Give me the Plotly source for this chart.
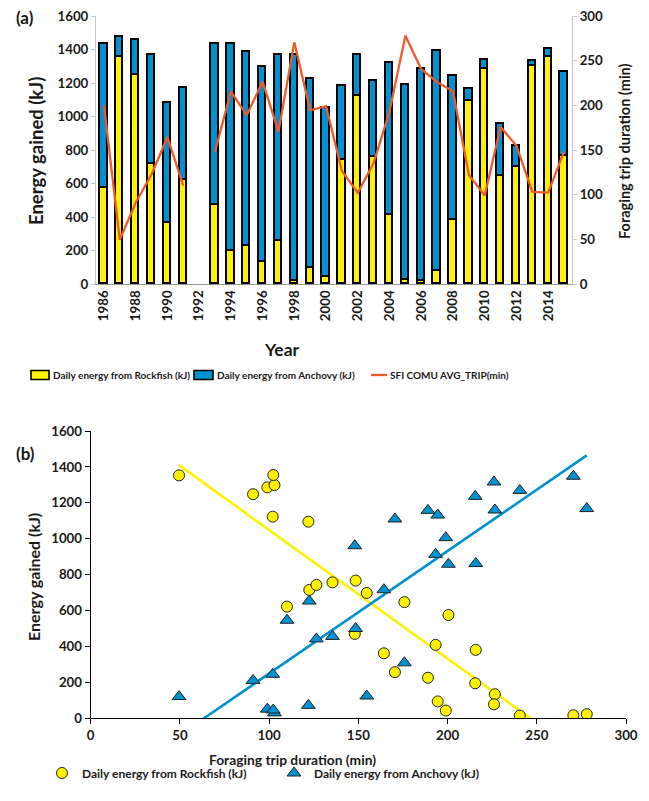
import numpy as np
import plotly.graph_objects as go

years = list(range(1986, 2016))
rockfish = [575, 1353, 1248, 715, 362, 622, None, 470, 195, 226, 134, 257, 17, 94, 43,
            743, 1123, 757, 409, 23, 15, 78, 381, 1095, 1286, 647, 698, 1299, 1355, 767]
anchovy = [858, 121, 211, 653, 716, 546, None, 961, 1236, 1158, 1160, 1110, 1348, 1132, 1006,
           442, 245, 456, 913, 1168, 1269, 1316, 862, 72, 51, 309, 124, 30, 46, 500]
trip = [200.5, 49.5, 91, 122.5, 164.3, 110, None, 148, 215.5, 189, 226.5, 170.5, 270.5, 194.5, 199,
        126.5, 102, 135.5, 193.3, 278, 240.5, 226, 215.8, 122, 99, 175.8, 154.7, 103, 102.3, 148.5]
year_ticks = list(range(1986, 2015, 2))
energy_ticks = list(range(0, 1601, 200))
trip_ticks = list(range(0, 301, 50))
dur_ticks = list(range(0, 301, 50))

NAME_ROCK = "Daily energy from Rockfish (kJ)"
NAME_ANCH = "Daily energy from Anchovy (kJ)"
NAME_TRIP = "SFI COMU AVG_TRIP(min)"

YEL = "#FFF200"
BLU = "#0091D2"
ORG = "#F05A28"
FONT = "Lato"
TXT = "#1a1a1a"
W, H = 649, 801

def px(x):
    return x / W

def py(y):
    return 1 - y / H

fig = go.Figure()
fig.add_trace(go.Bar(x=years, y=rockfish, name=NAME_ROCK,
                     marker=dict(color=YEL, line=dict(color="black", width=1.6)),
                     width=0.46, xaxis="x", yaxis="y", showlegend=False))
fig.add_trace(go.Bar(x=years, y=anchovy, name=NAME_ANCH,
                     marker=dict(color=BLU, line=dict(color="black", width=1.6)),
                     width=0.46, xaxis="x", yaxis="y", showlegend=False))
fig.add_trace(go.Scatter(x=years, y=trip, name=NAME_TRIP, mode="lines",
                         line=dict(color=ORG, width=2.3), connectgaps=False,
                         xaxis="x", yaxis="y3", showlegend=False))

# panel b
tx, ry, ay = [], [], []
for t, r, a in zip(trip, rockfish, anchovy):
    if t is None:
        continue
    tx.append(t); ry.append(r); ay.append(a)
tx = np.array(tx); ry = np.array(ry); ay = np.array(ay)
xs = np.array([tx.min(), tx.max()])
kr = np.polyfit(tx, ry, 1)
ka = np.polyfit(tx, ay, 1)
fig.add_trace(go.Scatter(x=xs, y=np.polyval(kr, xs), mode="lines", line=dict(color=YEL, width=2.6),
                         showlegend=False, xaxis="x2", yaxis="y2", hoverinfo="skip"))
fig.add_trace(go.Scatter(x=xs, y=np.polyval(ka, xs), mode="lines", line=dict(color=BLU, width=2.6),
                         showlegend=False, xaxis="x2", yaxis="y2", hoverinfo="skip"))
fig.add_trace(go.Scatter(x=tx, y=ry, mode="markers", name=NAME_ROCK,
                         marker=dict(symbol="circle", size=11, color=YEL, line=dict(color="#222", width=1)),
                         xaxis="x2", yaxis="y2", legend="legend2"))
fig.add_trace(go.Scatter(x=tx, y=ay, mode="markers", name=NAME_ANCH,
                         marker=dict(symbol="triangle-up", size=12, color=BLU, line=dict(color="#222", width=1)),
                         xaxis="x2", yaxis="y2", legend="legend2"))

tickfont = dict(family=FONT, size=13.3, color=TXT, weight="bold")

fig.update_layout(
    template="none",
    width=W, height=H, margin=dict(l=0, r=0, t=0, b=0, autoexpand=False),
    paper_bgcolor="white", plot_bgcolor="white",
    barmode="stack", bargap=0,
    font=dict(family=FONT, color=TXT),
    xaxis=dict(domain=[px(96), px(572)], range=[1985.5, 2015.5], tickvals=year_ticks,
               tickangle=-90, tickfont=tickfont, showgrid=False, zeroline=False,
               showline=True, linecolor="#999", linewidth=1, anchor="y", automargin=False, ticks=""),
    yaxis=dict(domain=[py(284), py(16)], range=[0, 1600], tickvals=energy_ticks,
               tickfont=tickfont, showgrid=False, zeroline=False, showline=True,
               linecolor="#C8C8C8", linewidth=1, ticks="outside", ticklen=4, tickcolor="#C8C8C8",
               anchor="x", automargin=False),
    yaxis3=dict(overlaying="y", side="right", range=[0, 300], tickvals=trip_ticks,
                tickfont=tickfont, showgrid=False, zeroline=False, showline=True,
                linecolor="#C8C8C8", linewidth=1, ticks="outside", ticklen=4, tickcolor="#C8C8C8",
                anchor="x", automargin=False),
    xaxis2=dict(domain=[px(90.7), px(626)], range=[0, 300], tickvals=dur_ticks,
                tickfont=tickfont, showgrid=False, zeroline=False, showline=True,
                linecolor="black", linewidth=1, ticks="outside", ticklen=5, tickcolor="black",
                anchor="y2", automargin=False),
    yaxis2=dict(domain=[py(718.3), py(431)], range=[0, 1600], tickvals=energy_ticks,
                tickfont=tickfont, showgrid=False, zeroline=False, showline=True,
                linecolor="black", linewidth=1, ticks="outside", ticklen=5, tickcolor="black",
                anchor="x2", automargin=False),
    legend2=dict(orientation="h", x=px(42), xanchor="left", y=py(773), yanchor="middle",
                 font=dict(family=FONT, size=12, color=TXT, weight="bold"),
                 itemwidth=30, entrywidth=187, traceorder="normal", bgcolor="rgba(0,0,0,0)"),
)

# legend of panel (a), drawn as shapes + text
leg_y = 375
lf = dict(family=FONT, size=10, color=TXT, weight="bold")
fig.add_shape(type="rect", xref="paper", yref="paper", x0=px(31), x1=px(49), y0=py(379.5), y1=py(370.5),
              fillcolor=YEL, line=dict(color="black", width=1.6))
fig.add_annotation(text=NAME_ROCK, x=px(51), y=py(leg_y), xref="paper", yref="paper", showarrow=False,
                   xanchor="left", yanchor="middle", font=lf)
fig.add_shape(type="rect", xref="paper", yref="paper", x0=px(194), x1=px(213), y0=py(379.5), y1=py(370.5),
              fillcolor=BLU, line=dict(color="black", width=1.6))
fig.add_annotation(text=NAME_ANCH, x=px(215), y=py(leg_y), xref="paper", yref="paper", showarrow=False,
                   xanchor="left", yanchor="middle", font=lf)
fig.add_shape(type="line", xref="paper", yref="paper", x0=px(371), x1=px(387), y0=py(leg_y), y1=py(leg_y),
              line=dict(color=ORG, width=2.3))
fig.add_annotation(text=NAME_TRIP, x=px(388), y=py(leg_y), xref="paper", yref="paper", showarrow=False,
                   xanchor="left", yanchor="middle", font=lf)

ann = [
    dict(text="(a)", x=px(25), y=py(17), size=17),
    dict(text="(b)", x=px(25), y=py(453), size=17),
    dict(text="Year", x=px(282), y=py(350), size=17.5),
    dict(text="Foraging trip duration (min)", x=px(292), y=py(759), size=13.8),
]
for a in ann:
    fig.add_annotation(text=a["text"], x=a["x"], y=a["y"], xref="paper", yref="paper",
                       showarrow=False, xanchor="center", yanchor="middle",
                       font=dict(family=FONT, size=a["size"], color=TXT, weight="bold"))
vann = [
    dict(text="Energy gained (kJ)", x=px(36), y=py(151), size=18.5, angle=-90),
    dict(text="Foraging trip duration (min)", x=px(624), y=py(151), size=14.5, angle=-90),
    dict(text="Energy gained (kJ)", x=px(33), y=py(577), size=16, angle=-90),
]
for a in vann:
    fig.add_annotation(text=a["text"], x=a["x"], y=a["y"], xref="paper", yref="paper",
                       showarrow=False, xanchor="center", yanchor="middle", textangle=a["angle"],
                       font=dict(family=FONT, size=a["size"], color=TXT, weight="bold"))

fig.write_html("out.html")
